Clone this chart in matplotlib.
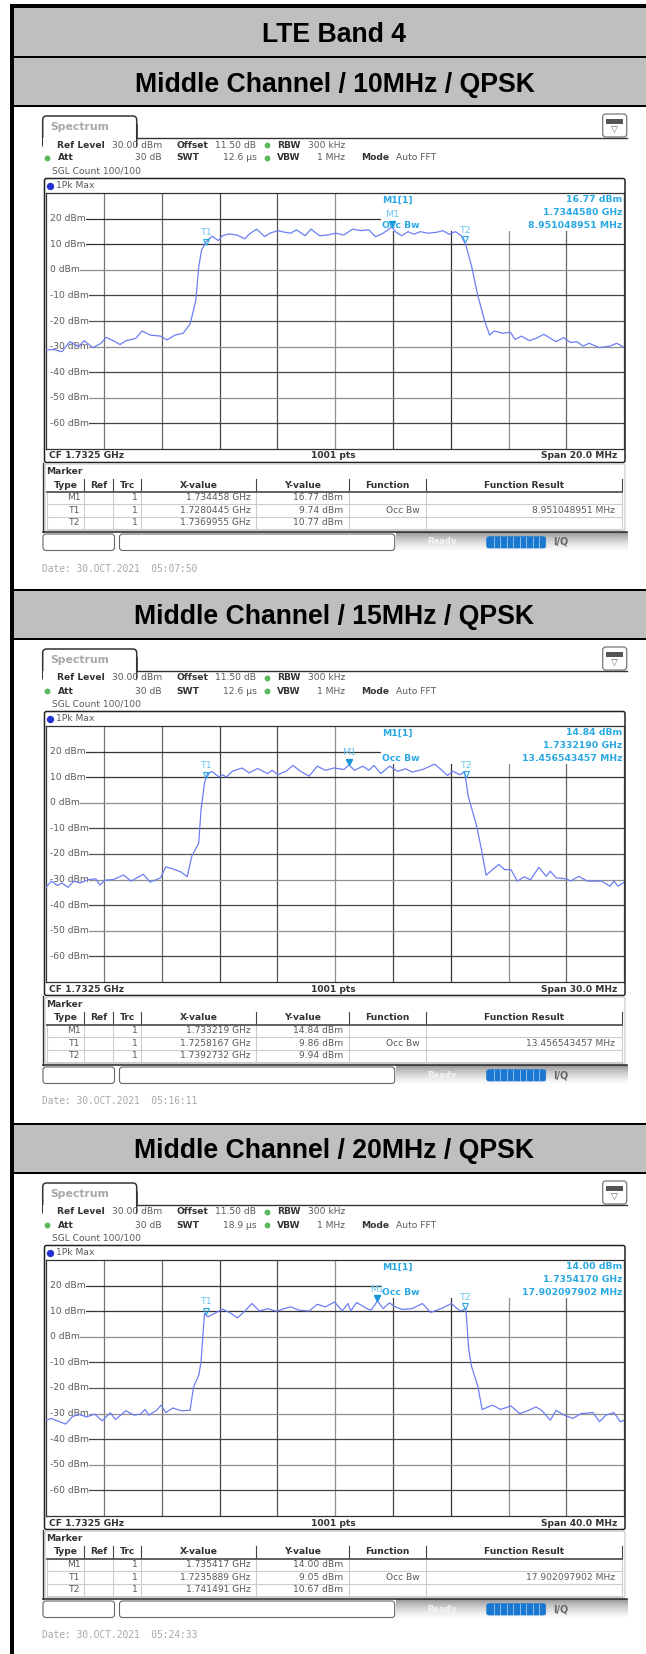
"""
plot.py — LTE Band 4 occupied bandwidth screenshots (3 spectrum analyzer panels)
"""

import matplotlib
matplotlib.use("Agg")
import matplotlib.pyplot as plt
import matplotlib.transforms as mtransforms
import numpy as np
from matplotlib.patches import FancyBboxPatch, Rectangle

W, H = 646, 1654
PANEL_STEP = [0, 533, 1067]

# traces: x in grid divisions (0..10), y in dBm
div_10 = [0.00, 0.13, 0.27, 0.41, 0.56, 0.66, 0.81, 0.95, 1.04, 1.16, 1.28, 1.38, 1.55, 1.66, 1.80, 1.98,
          2.09, 2.23, 2.37, 2.49, 2.55, 2.59, 2.64, 2.69, 2.77, 2.87, 2.98, 3.05, 3.16, 3.30, 3.44, 3.51,
          3.64, 3.78, 3.87, 4.01, 4.12, 4.23, 4.33, 4.48, 4.58, 4.73, 4.87, 5.01, 5.15, 5.30, 5.44, 5.58,
          5.70, 5.83, 5.98, 6.04, 6.15, 6.26, 6.36, 6.47, 6.61, 6.76, 6.86, 6.97, 7.08, 7.18, 7.26, 7.36,
          7.47, 7.58, 7.67, 7.75, 7.90, 8.03, 8.11, 8.22, 8.36, 8.47, 8.61, 8.82, 8.95, 9.07, 9.18, 9.29,
          9.39, 9.57, 9.75, 9.87, 10.0]
dbm_10 = [-31.3, -31.1, -32.0, -28.1, -30.0, -27.7, -30.4, -28.7, -26.4, -27.7, -29.2, -27.7, -26.8, -23.9, -25.5, -25.9,
          -27.4, -25.5, -24.8, -21.2, -15.7, -11.8, 1.3, 7.8, 11.0, 13.1, 11.4, 13.3, 14.0, 13.6, 12.1, 13.9,
          15.9, 13.0, 14.3, 15.3, 14.7, 14.3, 15.6, 13.3, 15.9, 13.3, 13.6, 14.3, 13.6, 15.9, 15.3, 15.6,
          12.9, 14.3, 16.77, 14.9, 13.3, 14.9, 13.9, 14.9, 14.3, 14.7, 15.3, 13.9, 14.9, 13.3, 9.7, 1.3,
          -10.4, -19.6, -25.5, -23.9, -24.8, -24.4, -27.2, -25.9, -27.7, -26.8, -25.2, -28.1, -26.5, -28.4, -28.1, -29.8,
          -28.7, -30.4, -29.8, -28.7, -30.4]

div_15 = [0.00, 0.09, 0.20, 0.27, 0.38, 0.48, 0.59, 0.73, 0.86, 0.93, 1.02, 1.16, 1.34, 1.47, 1.68, 1.80,
          1.98, 2.07, 2.19, 2.34, 2.44, 2.52, 2.64, 2.68, 2.74, 2.79, 2.87, 2.99, 3.05, 3.12, 3.22, 3.39,
          3.51, 3.66, 3.83, 3.91, 4.01, 4.15, 4.27, 4.40, 4.55, 4.69, 4.83, 4.98, 5.15, 5.24, 5.33, 5.48,
          5.58, 5.67, 5.79, 5.94, 6.08, 6.22, 6.33, 6.51, 6.72, 6.83, 6.94, 7.04, 7.15, 7.24, 7.30, 7.44,
          7.53, 7.61, 7.72, 7.83, 7.93, 8.04, 8.15, 8.27, 8.38, 8.52, 8.65, 8.72, 8.82, 9.00, 9.07, 9.21,
          9.36, 9.61, 9.75, 9.82, 9.89, 10.0]
dbm_15 = [-33.0, -30.6, -32.3, -31.3, -33.0, -30.6, -31.3, -30.0, -29.7, -32.1, -30.2, -30.0, -28.2, -30.6, -27.9, -31.0,
          -29.3, -25.0, -25.8, -27.1, -28.9, -20.9, -15.7, -2.6, 7.8, 11.4, 12.2, 10.1, 10.9, 10.1, 12.3, 13.6,
          11.7, 13.4, 11.4, 12.7, 11.0, 12.3, 14.6, 12.3, 10.4, 14.3, 12.7, 13.6, 13.0, 14.84, 12.7, 14.3,
          12.7, 14.6, 11.4, 14.3, 12.3, 13.3, 12.0, 13.0, 15.1, 13.0, 10.7, 12.3, 11.0, 12.0, 2.6, -8.5,
          -18.3, -28.3, -26.1, -24.1, -26.1, -26.1, -30.6, -28.9, -30.1, -25.2, -28.7, -26.7, -29.3, -29.7, -30.6, -28.7,
          -30.6, -30.6, -32.6, -30.6, -32.6, -31.0]

div_20 = [0.00, 0.09, 0.34, 0.45, 0.56, 0.70, 0.84, 0.97, 1.11, 1.20, 1.38, 1.52, 1.63, 1.71, 1.78, 1.91,
          1.99, 2.07, 2.19, 2.34, 2.49, 2.55, 2.64, 2.68, 2.71, 2.74, 2.80, 2.91, 3.05, 3.19, 3.31, 3.44,
          3.56, 3.69, 3.83, 3.99, 4.12, 4.23, 4.37, 4.55, 4.69, 4.83, 4.99, 5.12, 5.22, 5.27, 5.37, 5.55,
          5.62, 5.73, 5.83, 5.94, 6.01, 6.15, 6.33, 6.51, 6.65, 6.83, 7.01, 7.11, 7.17, 7.26, 7.31, 7.36,
          7.47, 7.54, 7.72, 7.86, 8.04, 8.19, 8.33, 8.47, 8.57, 8.72, 8.82, 8.96, 9.11, 9.25, 9.46, 9.57,
          9.68, 9.82, 9.93, 10.0]
dbm_20 = [-32.6, -31.9, -34.1, -31.3, -30.2, -31.3, -30.2, -32.8, -29.7, -32.3, -28.9, -30.6, -30.2, -28.4, -30.6, -28.7,
          -26.7, -29.6, -27.8, -28.9, -28.7, -19.6, -15.0, -9.8, 0.0, 9.1, 7.8, 9.1, 10.8, 9.3, 7.4, 10.1,
          13.0, 10.1, 11.0, 10.0, 11.0, 11.7, 10.4, 10.1, 12.7, 11.7, 13.6, 10.1, 13.0, 10.1, 13.4, 11.0,
          10.4, 14.0, 11.0, 13.3, 12.0, 10.7, 11.0, 13.0, 9.5, 11.0, 13.0, 11.0, 10.1, 11.0, -5.2, -11.7,
          -19.6, -28.4, -26.7, -28.4, -27.0, -30.0, -28.9, -27.4, -28.7, -32.6, -28.7, -30.6, -31.9, -30.0, -29.6, -33.2,
          -30.6, -29.6, -33.2, -32.6]

# per panel text / marker values
titles = ["Middle Channel / 10MHz / QPSK", "Middle Channel / 15MHz / QPSK", "Middle Channel / 20MHz / QPSK"]
spans_mhz = [20.0, 30.0, 40.0]
swt = ["12.6 µs", "12.6 µs", "18.9 µs"]
dates = ["Date: 30.OCT.2021  05:07:50", "Date: 30.OCT.2021  05:16:11", "Date: 30.OCT.2021  05:24:33"]
center_ghz = 1.7325
m1_ghz = [1.734458, 1.733219, 1.735417]
m1_dbm = [16.77, 14.84, 14.00]
t1_ghz = [1.7280445, 1.7258167, 1.7235889]
t1_dbm = [9.74, 9.86, 9.05]
t2_ghz = [1.7369955, 1.7392732, 1.741491]
t2_dbm = [10.77, 9.94, 10.67]
m1_x_str = ["1.734458 GHz", "1.733219 GHz", "1.735417 GHz"]
t1_x_str = ["1.7280445 GHz", "1.7258167 GHz", "1.7235889 GHz"]
t2_x_str = ["1.7369955 GHz", "1.7392732 GHz", "1.741491 GHz"]
info_freq = ["1.7344580 GHz", "1.7332190 GHz", "1.7354170 GHz"]
occ_bw = ["8.951048951 MHz", "13.456543457 MHz", "17.902097902 MHz"]
y_levels = [20, 10, 0, -10, -20, -30, -40, -50, -60]
y_line_cols = ["#333333", "#333333", "#8f8f8f", "#444444", "#555555", "#8f8f8f", "#444444", "#8f8f8f", "#444444"]
x_divs = [1, 2, 3, 4, 5, 6, 7, 8, 9]
x_line_cols = ["#777777", "#666666", "#444444", "#555555", "#8f8f8f", "#444444", "#333333", "#8f8f8f", "#666666"]
traces = [(div_10, dbm_10), (div_15, dbm_15), (div_20, dbm_20)]

BAND = "#bfbfbf"
INFO = "#2aa8e4"
TRACE = "#6c7ff2"
TXT = "#5a5a5a"
BOLD = "#333333"
FS = 6.6

plt.rcParams["font.family"] = ["DejaVu Sans"]

fig = plt.figure(figsize=(W / 100, H / 100), dpi=100, facecolor="white")
bg = fig.add_axes([0, 0, 1, 1], zorder=1)
bg.set_xlim(0, W)
bg.set_ylim(H, 0)
bg.axis("off")


def box(x0, y0, x1, y1, color, z=1):
    bg.add_patch(Rectangle((x0, y0), x1 - x0, y1 - y0, fc=color, ec="none", zorder=z))


def rbox(x0, y0, x1, y1, ec="#444444", lw=0.9, fc="white", r=3, z=2):
    bg.add_patch(FancyBboxPatch((x0, y0), x1 - x0, y1 - y0, boxstyle=f"round,pad=0,rounding_size={r}",
                                fc=fc, ec=ec, lw=lw, zorder=z))


def txt(x, y, s, size=FS, color=TXT, weight="normal", ha="left", **kw):
    bg.text(x, y, s, fontsize=size, color=color, fontweight=weight, ha=ha, va="center", zorder=5, **kw)


def band_title(y, s):
    bg.text(334.5, y, s, fontsize=19.2, fontweight="bold", family="Liberation Sans",
            ha="center", va="center", color="black", zorder=5)


# outer black rules
box(10, 4, 14, H, "black", z=3)
box(10, 4, W, 8, "black", z=3)
box(14, 8, W, 56, BAND)
box(14, 56, W, 58, "black", z=3)
band_title(34.5, "LTE Band 4")


def draw_panel(i):
    off = PANEL_STEP[i]
    span = spans_mhz[i]
    start = center_ghz - span / 2000
    to_div = lambda f: (f - start) / (span / 10000)

    box(14, 58 + off, W, 105 + off, BAND)
    box(14, 105 + off, W, 107 + off, "black", z=3)
    if i > 0:
        box(14, 56 + off, W, 58 + off, "black", z=3)
    band_title(84.5 + off, titles[i])

    # tab and settings row
    rbox(42.7, 116 + off, 136.7, 148 + off, ec="#333333", lw=1.1, r=4)
    box(41, 138 + off, 42, 150 + off, "white", z=3)
    box(43.2, 138 + off, 136.1, 150 + off, "white", z=3)
    bg.plot([136.7, 627], [137.5 + off, 137.5 + off], color="#333333", lw=1.0, zorder=3)
    bg.plot([136.7, 136.7], [125 + off, 137.5 + off], color="#333333", lw=1.1, zorder=3)
    txt(50, 127 + off, "Spectrum", size=7.8, color="#a8a8a8", weight="bold")
    rbox(602.7, 114 + off, 626.7, 137 + off, ec="#777777", lw=0.9, r=3)
    box(606, 119 + off, 623, 124 + off, "#555555", z=4)
    txt(614.5, 130 + off, "▽", size=6.5, color="#666666", ha="center")

    txt(57, 145 + off, "Ref Level", weight="bold", color=BOLD)
    txt(111.7, 145 + off, "30.00 dBm")
    txt(176.8, 145 + off, "Offset", weight="bold", color=BOLD)
    txt(215, 145 + off, "11.50 dB")
    txt(277, 145 + off, "RBW", weight="bold", color=BOLD)
    txt(307.8, 145 + off, "300 kHz")
    txt(57.7, 158 + off, "Att", weight="bold", color=BOLD)
    txt(162, 158 + off, "30 dB", ha="right")
    txt(176.8, 158 + off, "SWT", weight="bold", color=BOLD)
    txt(256.7, 158 + off, swt[i], ha="right")
    txt(277, 158 + off, "VBW", weight="bold", color=BOLD)
    txt(345, 158 + off, "1 MHz", ha="right")
    txt(361, 158 + off, "Mode", weight="bold", color=BOLD)
    txt(395.6, 158 + off, "Auto FFT")
    txt(52.3, 171 + off, "SGL Count 100/100")
    bg.scatter([266.6, 266.6, 47.4], [145 + off, 158 + off, 158 + off], s=18, marker="o", color="#5cb85c",
               zorder=4, linewidths=0)

    # frame around the trace
    rbox(44.5, 178.5 + off, 625, 462.5 + off, ec="#222222", lw=1.1, r=2)
    bg.scatter([50], [185.5 + off], s=28, color="#2233cc", zorder=4, linewidths=0)
    txt(55.6, 185.5 + off, "1Pk Max")
    txt(49.4, 456 + off, "CF 1.7325 GHz", weight="bold", color=BOLD)
    txt(333, 456 + off, "1001 pts", weight="bold", color=BOLD, ha="center")
    txt(616.8, 456 + off, f"Span {span:.1f} MHz", weight="bold", color=BOLD, ha="right")

    # trace axes
    ax = fig.add_axes([46.1 / W, 1 - (449 + off) / H, 578.2 / W, 256 / H], zorder=2)
    ax.set_xlim(0, 10)
    ax.set_ylim(-70, 30)
    ax.set_xticks([])
    ax.set_yticks([])
    for sp in ax.spines.values():
        sp.set_color("#333333")
        sp.set_linewidth(0.9)
    for d, c in zip(x_divs, x_line_cols):
        ax.axvline(d, color=c, lw=0.9, zorder=1)
    for v, c in zip(y_levels, y_line_cols):
        ax.axhline(v, color=c, lw=0.9, zorder=1)
    # info block hides the grid behind it, same for the strip left of the level labels
    ax.add_patch(Rectangle((5.79, 15.2), 4.21, 14.8, fc="white", ec="none", zorder=1.5))
    ax.add_patch(Rectangle((0, -70), 0.07, 100, fc="white", ec="none", zorder=1.5))
    for v in y_levels:
        ax.text(0.06, v, f"{v} dBm", fontsize=FS, color=TXT, va="center", ha="left", zorder=2,
                bbox=dict(fc="white", ec="none", pad=0.6))

    tx, ty = traces[i]
    ax.plot(tx, ty, color=TRACE, lw=0.9, zorder=3)

    tip = mtransforms.offset_copy(ax.transData, fig=fig, y=3, units="dots")
    ax.plot(to_div(m1_ghz[i]), m1_dbm[i], marker="v", ms=5, color="#1496d8", mec="#1496d8", transform=tip, zorder=4)
    for f, v in ((t1_ghz[i], t1_dbm[i]), (t2_ghz[i], t2_dbm[i])):
        ax.plot(to_div(f), v, marker="v", ms=5, mfc="none", mec=INFO, mew=0.8, transform=tip, zorder=4)
    for name, f, v in (("M1", m1_ghz[i], m1_dbm[i]), ("T1", t1_ghz[i], t1_dbm[i]), ("T2", t2_ghz[i], t2_dbm[i])):
        ax.annotate(name, (to_div(f), v), xytext=(0, 8.6), textcoords="offset points", fontsize=6.8,
                    color="#6cc4ee", ha="center", va="center", zorder=4)

    ax.text(5.81, 27.3, "M1[1]", fontsize=6.7, color=INFO, fontweight="bold", va="center", zorder=4)
    ax.text(5.81, 17.4, "Occ Bw", fontsize=6.7, color=INFO, fontweight="bold", va="center", zorder=4)
    ax.text(9.965, 27.3, f"{m1_dbm[i]:.2f} dBm", fontsize=6.7, color=INFO, fontweight="bold", ha="right", va="center", zorder=4)
    ax.text(9.965, 22.4, info_freq[i], fontsize=6.7, color=INFO, fontweight="bold", ha="right", va="center", zorder=4)
    ax.text(9.965, 17.4, occ_bw[i], fontsize=6.7, color=INFO, fontweight="bold", ha="right", va="center", zorder=4)

    # marker table
    rbox(45, 464 + off, 625, 530.5 + off, ec="#cccccc", lw=0.9, r=2)
    bg.plot([43, 43], [463 + off, 531.5 + off], color="#333333", lw=1.0, zorder=3)
    txt(45.7, 471.5 + off, "Marker", weight="bold", color=BOLD)
    col_x = [47.4, 83.6, 113.3, 141, 256.3, 349.4, 426, 621.5]
    for x in col_x[1:]:
        bg.plot([x, x], [491 + off, 529 + off], color="#cccccc", lw=0.8, zorder=3)
        bg.plot([x, x], [479 + off, 491 + off], color="#444444", lw=0.8, zorder=3)
    bg.plot([47.4, 47.4], [491 + off, 529 + off], color="#cccccc", lw=0.8, zorder=3)
    bg.plot([47.4, 621.5], [491.5 + off, 491.5 + off], color="#555555", lw=1.3, zorder=3)
    for y in (503.5, 516.5, 529):
        bg.plot([47.4, 621.5], [y + off, y + off], color="#cccccc", lw=0.8, zorder=3)
    heads = ["Type", "Ref", "Trc", "X-value", "Y-value", "Function", "Function Result"]
    for j, s in enumerate(heads):
        txt((col_x[j] + col_x[j + 1]) / 2, 485 + off, s, weight="bold", color=BOLD, ha="center")
    rows = [("M1", m1_x_str[i], m1_dbm[i]), ("T1", t1_x_str[i], t1_dbm[i]), ("T2", t2_x_str[i], t2_dbm[i])]
    for y, (name, xs, v) in zip((497.5, 510.5, 522.5), rows):
        txt(80.3, y + off, name, ha="right")
        txt(138, y + off, "1", ha="right")
        txt(250.5, y + off, xs, ha="right")
        txt(343, y + off, f"{v:.2f} dBm", ha="right")
    txt(419.5, 510.5 + off, "Occ Bw", ha="right")
    txt(615, 510.5 + off, occ_bw[i], ha="right")

    # status bar
    bg.plot([43, 627], [531.7 + off, 531.7 + off], color="#222222", lw=1.1, zorder=3)
    rbox(43, 534 + off, 114.5, 550.5 + off, ec="#666666", lw=0.8, r=3)
    rbox(119.5, 534 + off, 394.7, 550.5 + off, ec="#666666", lw=0.8, r=3)
    bg.imshow(np.linspace(0, 1, 20)[:, None], cmap="Greys_r", vmin=-1.0, vmax=1, aspect="auto", zorder=1,
              extent=(395.5, 627, 552 + off, 532 + off), interpolation="bilinear")
    txt(427, 542 + off, "Ready", color="#f4f4f4", weight="bold", size=6.0)
    rbox(486.7, 536.7 + off, 545.7, 548 + off, ec="#1a78d0", fc="#1a78d0", lw=0.5, r=2)
    for x in np.arange(493.5, 545, 6.5):
        bg.plot([x, x], [536.7 + off, 548 + off], color="#bcd8f2", lw=0.5, zorder=3)
    txt(561, 542 + off, "I/Q", weight="bold", color="#666666", size=7.0, ha="center")
    txt(42.4, 568.5 + off, dates[i], size=6.95, color="#a8a8a8", family="DejaVu Sans Mono")


for i in range(3):
    draw_panel(i)

bg.set_xlim(0, W)
bg.set_ylim(H, 0)
fig.savefig("out.png", dpi=100)
plt.close(fig)
